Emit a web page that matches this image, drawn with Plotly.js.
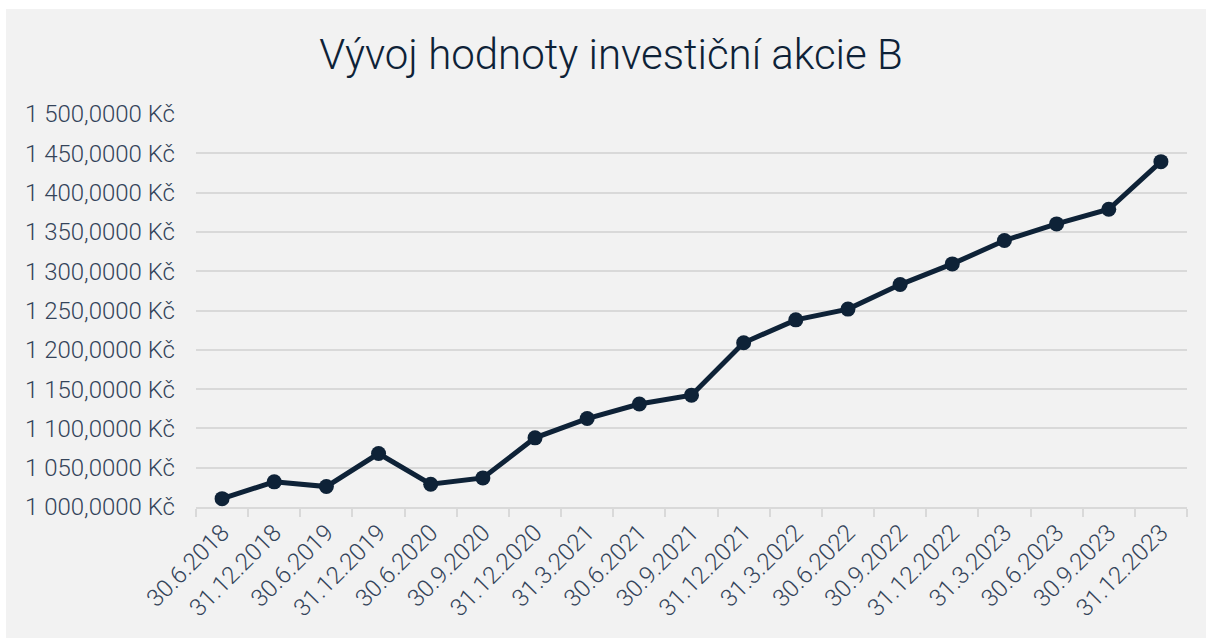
<!DOCTYPE html>
<html>
<head>
<meta charset="utf-8">
<script src="https://cdn.plot.ly/plotly-3.0.1.min.js"></script>
<style>
  html, body { margin: 0; padding: 0; background: #ffffff; width: 1206px; height: 638px; overflow: hidden; }
  #chart { position: absolute; left: 6px; top: 9px; width: 1200px; height: 629px; }
</style>
</head>
<body>
<div id="chart"></div>
<script>
const categories = ["30.6.2018","31.12.2018","30.6.2019","31.12.2019","30.6.2020","30.9.2020","31.12.2020","31.3.2021","30.6.2021","30.9.2021","31.12.2021","31.3.2022","30.6.2022","30.9.2022","31.12.2022","31.3.2023","30.6.2023","30.9.2023","31.12.2023"];
const values = [1010.6, 1032.0, 1026.0, 1068.0, 1029.0, 1037.0, 1088.0, 1112.5, 1131.0, 1142.3, 1208.9, 1238.1, 1251.8, 1283.0, 1309.3, 1339.0, 1360.2, 1378.8, 1439.4];
const chartTitle = "Vývoj hodnoty investiční akcie B";

const navy = "#0e2237";
const gridC = "#d9d9d9";
const tickC = "#34445a";

const trace = {
  type: "scatter",
  mode: "lines+markers",
  x: categories,
  y: values,
  line: { color: navy, width: 5 },
  marker: { color: navy, size: 15 },
  hoverinfo: "none"
};

const layout = {
  width: 1200,
  height: 629,
  paper_bgcolor: "#f2f2f2",
  plot_bgcolor: "#f2f2f2",
  margin: { l: 190, r: 19, t: 105, b: 131 },
  separators: ", ",
  showlegend: false,
  font: { family: "Roboto, 'Open Sans', sans-serif", color: tickC },
  title: {
    text: chartTitle,
    font: { family: "Roboto, sans-serif", size: 42, color: navy, weight: 300 },
    x: 0.5 + 5 / 1200, xanchor: "center",
    y: 1 - (31 / 629), yref: "container", yanchor: "top",
    pad: { t: 0 }
  },
  xaxis: {
    type: "category",
    range: [-0.5, categories.length - 0.5],
    tickson: "boundaries",
    ticks: "outside",
    ticklen: 8,
    tickwidth: 2,
    tickcolor: gridC,
    showline: true,
    linecolor: gridC,
    linewidth: 2,
    showgrid: false,
    zeroline: false,
    tickangle: -45,
    tickfont: { family: "Roboto, sans-serif", size: 24, color: tickC, weight: 300 },
    fixedrange: true
  },
  yaxis: {
    range: [1000, 1500],
    dtick: 50,
    tick0: 1000,
    tickformat: ",.4f",
    ticksuffix: " Kč",
    showgrid: true,
    gridcolor: gridC,
    gridwidth: 2,
    zeroline: false,
    showline: false,
    ticks: "",
    ticklabelstandoff: 20,
    tickfont: { family: "Roboto, sans-serif", size: 24, color: tickC, weight: 300 },
    fixedrange: true
  }
};

Plotly.newPlot("chart", [trace], layout, { staticPlot: true, displayModeBar: false });
</script>
</body>
</html>
